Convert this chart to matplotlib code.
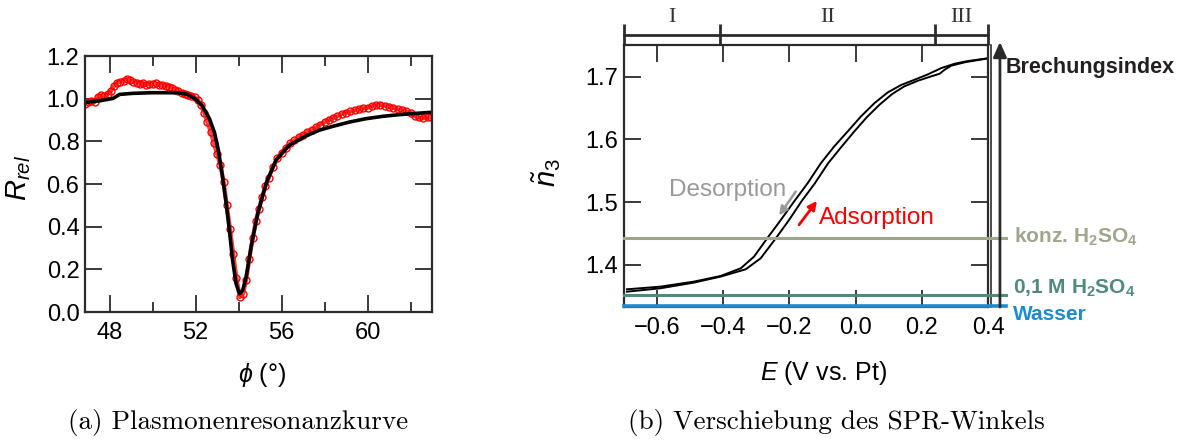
import matplotlib
matplotlib.use('Agg')
import matplotlib.pyplot as plt
from matplotlib.ticker import MultipleLocator

plt.rcParams['font.family'] = ['Liberation Sans', 'DejaVu Sans']
plt.rcParams['mathtext.fontset'] = 'custom'
plt.rcParams['mathtext.rm'] = 'Liberation Sans'
plt.rcParams['mathtext.it'] = 'Liberation Sans:italic'
plt.rcParams['mathtext.bf'] = 'Liberation Sans:bold'

# (a) Plasmonenresonanzkurve - Messpunkte
phi_mess = [46.85, 47.0, 47.15, 47.3, 47.45, 47.6, 47.75, 47.9, 48.05, 48.2, 48.35, 48.5,
            48.65, 48.8, 48.95, 49.1, 49.25, 49.4, 49.55, 49.7, 49.85, 50.0, 50.15, 50.3,
            50.45, 50.6, 50.75, 50.9, 51.05, 51.2, 51.35, 51.5, 51.65, 51.8, 51.95, 52.1,
            52.25, 52.4, 52.55, 52.7, 52.85, 53.0, 53.15, 53.3, 53.45, 53.6, 53.75, 53.9,
            54.05, 54.2, 54.35, 54.5, 54.65, 54.8, 54.95, 55.1, 55.25, 55.4, 55.6, 55.8,
            56.0, 56.2, 56.4, 56.6, 56.8, 57.0, 57.2, 57.4, 57.6, 57.8, 58.0, 58.2, 58.4,
            58.6, 58.8, 59.0, 59.2, 59.4, 59.6, 59.8, 60.0, 60.2, 60.4, 60.6, 60.8, 61.0,
            61.2, 61.4, 61.6, 61.8, 62.0, 62.2, 62.4, 62.6, 62.8, 62.95]
r_mess = [0.975, 0.985, 0.990, 0.985, 1.010, 1.015, 1.012, 1.022, 1.035, 1.060, 1.075, 1.080,
          1.085, 1.092, 1.088, 1.080, 1.075, 1.068, 1.072, 1.066, 1.070, 1.068, 1.072, 1.066,
          1.062, 1.060, 1.056, 1.050, 1.040, 1.036, 1.025, 1.020, 1.018, 1.012, 1.006, 0.992,
          0.972, 0.935, 0.890, 0.845, 0.790, 0.740, 0.690, 0.610, 0.500, 0.390, 0.270, 0.160,
          0.070, 0.085, 0.150, 0.250, 0.345, 0.425, 0.485, 0.540, 0.590, 0.630, 0.680, 0.720,
          0.745, 0.770, 0.790, 0.805, 0.820, 0.830, 0.845, 0.855, 0.865, 0.878, 0.890, 0.900,
          0.910, 0.918, 0.928, 0.935, 0.940, 0.945, 0.950, 0.955, 0.958, 0.965, 0.970, 0.972,
          0.968, 0.962, 0.958, 0.950, 0.946, 0.940, 0.935, 0.918, 0.912, 0.908, 0.912, 0.915]

# (a) Fitkurve
phi_fit = [46.85, 47.54, 48.15, 48.46, 49.08, 50.0, 51.1, 51.56, 51.95, 52.3, 52.64, 52.88,
           53.05, 53.23, 53.42, 53.57, 53.72, 53.88, 54.04, 54.19, 54.35, 54.58, 54.89, 55.28,
           55.74, 56.36, 57.13, 57.75, 58.37, 59.14, 59.92, 60.69, 61.46, 62.24, 62.95]
r_fit = [0.982, 0.990, 1.001, 1.020, 1.025, 1.028, 1.028, 1.022, 1.002, 0.968, 0.907, 0.840,
         0.762, 0.649, 0.509, 0.383, 0.243, 0.133, 0.086, 0.102, 0.164, 0.305, 0.462, 0.603,
         0.712, 0.782, 0.825, 0.852, 0.870, 0.890, 0.906, 0.917, 0.925, 0.931, 0.936]

# (b) Hysterese des Brechungsindex
e_des = [-0.691, -0.590, -0.489, -0.408, -0.347, -0.307, -0.267, -0.226, -0.186, -0.145,
         -0.105, -0.065, -0.024, 0.016, 0.057, 0.097, 0.137, 0.178, 0.218, 0.259, 0.299,
         0.339, 0.40]
n_des = [1.3612, 1.3654, 1.3734, 1.3824, 1.3947, 1.4133, 1.4426, 1.4718, 1.5011, 1.5303,
         1.5622, 1.5888, 1.6128, 1.6367, 1.658, 1.675, 1.6867, 1.6952, 1.7037, 1.7138, 1.7207,
         1.725, 1.7293]
e_ads = [-0.691, -0.590, -0.489, -0.408, -0.332, -0.287, -0.241, -0.201, -0.164, -0.123,
         -0.083, -0.042, -0.004, 0.034, 0.072, 0.110, 0.147, 0.188, 0.228, 0.254, 0.269,
         0.289, 0.329, 0.40]
n_ads = [1.3574, 1.3628, 1.3718, 1.3814, 1.3931, 1.4106, 1.4426, 1.4718, 1.5011, 1.5303,
         1.5622, 1.5888, 1.6128, 1.6356, 1.6553, 1.6723, 1.6846, 1.6936, 1.7005, 1.7048,
         1.7112, 1.7176, 1.7229, 1.7293]

# Referenzlinien
n_konz = 1.443
n_01m = 1.352
n_wasser = 1.3338
bereich_grenzen = [-0.7, -0.41, 0.24, 0.4]
bereich_namen = ['I', 'II', 'III']

dark = '#2b2b2b'
c_konz = '#9ea68c'
c_01m = '#4f8b7c'
c_wasser = '#1a8dd2'

fig = plt.figure(figsize=(11.82, 4.41), dpi=100)

def style_axes(ax):
    for sp in ax.spines.values():
        sp.set_color(dark)
        sp.set_linewidth(1.6)
    ax.tick_params(which='both', direction='in', top=True, right=True,
                   color=dark, width=1.3, labelsize=17)
    ax.tick_params(axis='x', pad=7)
    ax.tick_params(axis='y', pad=4)
    ax.tick_params(which='major', length=12)
    ax.tick_params(which='minor', length=7)

# ---------- (a)
ax1 = fig.add_axes([0.0719, 0.2925, 0.2936, 0.5805])
ax1.plot(phi_mess, r_mess, color='red', lw=3, alpha=0.75)
ax1.plot(phi_mess, r_mess, 'o', mfc='none', mec='red', ms=5, mew=1)
ax1.plot(phi_fit, r_fit, color='black', lw=2.6)
ax1.set_xlim(46.85, 63)
ax1.set_ylim(0, 1.2)
ax1.xaxis.set_major_locator(MultipleLocator(4))
ax1.xaxis.set_minor_locator(MultipleLocator(2))
ax1.yaxis.set_major_locator(MultipleLocator(0.2))
ax1.set_yticklabels(['%.1f' % v for v in ax1.get_yticks()])
style_axes(ax1)
ax1.set_xlabel(r'$\phi$ (°)', fontsize=18)
ax1.set_ylabel(r'$R_{rel}$', fontsize=21)
ax1.xaxis.set_label_coords(0.51, -0.19)
ax1.yaxis.set_label_coords(-0.15, 0.523)
fig.text(0.201, 0.043, '(a) Plasmonenresonanzkurve', family='cmr10', fontsize=19.5,
         ha='center', va='center')

# ---------- (b)
ax2 = fig.add_axes([0.5279, 0.3039, 0.308, 0.594])
ax2.plot(e_des, n_des, color='black', lw=1.4)
ax2.plot(e_ads, n_ads, color='black', lw=1.4)
x_end = 0.455
for n, c, lw in [(n_konz, c_konz, 2.2), (n_01m, c_01m, 2.2), (n_wasser, c_wasser, 2.6)]:
    ax2.plot([-0.7, x_end], [n, n], color=c, lw=lw, clip_on=False, zorder=3)
ax2.set_xlim(-0.7, 0.4)
ax2.set_ylim(1.333, 1.7505)
ax2.set_xticks([-0.6, -0.4, -0.2, 0.0, 0.2, 0.4])
ax2.set_xticklabels(['\u22120.6', '\u22120.4', '\u22120.2', '0.0', '0.2', '0.4'])
ax2.set_yticks([1.4, 1.5, 1.6, 1.7])
ax2.set_yticklabels(['1.4', '1.5', '1.6', '1.7'])
style_axes(ax2)
ax2.set_xlabel(r'$E$ (V vs. Pt)', fontsize=18)
ax2.set_ylabel(r'$\tilde{n}_3$', fontsize=21)
ax2.xaxis.set_label_coords(0.547, -0.2)
ax2.yaxis.set_label_coords(-0.168, 0.515)

# zweite Linie am rechten Rand
ax2.plot([0.4075, 0.4075], [1.333, 1.7505], color=dark, lw=1.2, clip_on=False)

# Bereiche I, II, III
y_br = 1.7672
for xb in bereich_grenzen:
    ax2.plot([xb, xb], [1.7505, 1.7835], color=dark, lw=2, clip_on=False,
             solid_capstyle='butt')
ax2.plot([bereich_grenzen[0], bereich_grenzen[-1]], [y_br, y_br], color=dark, lw=2,
         clip_on=False)
for i, name in enumerate(bereich_namen):
    xm = (bereich_grenzen[i] + bereich_grenzen[i + 1]) / 2
    ax2.text(xm, 1.795, name, family='Liberation Serif', fontsize=16,
             ha='center', va='center', color='#333333')

# Pfeil Brechungsindex
ax2.annotate('', xy=(0.436, 1.7555), xytext=(0.436, 1.333),
             arrowprops=dict(arrowstyle='-|>,head_length=0.9,head_width=0.4',
                             color=dark, lw=2, shrinkA=0, shrinkB=0),
             annotation_clip=False)
ax2.text(0.4545, 1.7149, 'Brechungsindex', fontsize=15.5, fontweight='bold',
         color='#231f20', ha='left', va='center', clip_on=False)
ax2.text(0.479, 1.4445, r'konz. H$_\mathbf{2}$SO$_\mathbf{4}$', fontsize=15,
         fontweight='bold', color=c_konz, ha='left', va='center')
ax2.text(0.476, 1.3626, r'0,1 M H$_\mathbf{2}$SO$_\mathbf{4}$', fontsize=15,
         fontweight='bold', color=c_01m, ha='left', va='center')
ax2.text(0.476, 1.3214, 'Wasser', fontsize=15, fontweight='bold', color=c_wasser,
         ha='left', va='center')

# Desorption / Adsorption
ax2.text(-0.211, 1.52, 'Desorption', fontsize=17.5, color='#999999', ha='right',
         va='center')
ax2.annotate('', xy=(-0.231, 1.479), xytext=(-0.181, 1.517),
             arrowprops=dict(arrowstyle='-|>,head_length=0.5,head_width=0.25',
                             color='#999999', lw=1.8, shrinkA=0, shrinkB=0))
ax2.text(-0.11, 1.4745, 'Adsorption', fontsize=17.5, color='red', ha='left',
         va='center')
ax2.annotate('', xy=(-0.117, 1.502), xytext=(-0.171, 1.464),
             arrowprops=dict(arrowstyle='-|>,head_length=0.5,head_width=0.25',
                             color='red', lw=2, shrinkA=0, shrinkB=0))

fig.text(0.708, 0.043, '(b) Verschiebung des SPR-Winkels', family='cmr10', fontsize=19.5,
         ha='center', va='center')

fig.savefig('out.png', dpi=100)
